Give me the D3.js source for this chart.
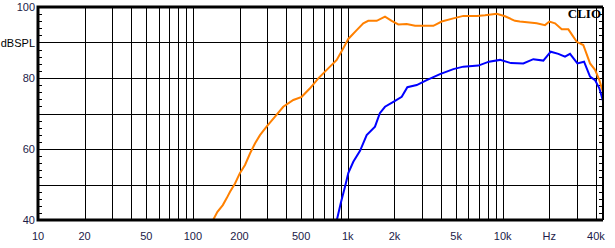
<!DOCTYPE html>
<html>
<head>
<meta charset="utf-8">
<script src="https://cdn.jsdelivr.net/npm/d3@7"></script>
<style>
  body { margin: 0; background: #fff; }
  svg { display: block; }
  text { font-family: 'Liberation Sans', Arial, sans-serif; font-size: 11px; fill: #1c1a48; }
</style>
</head>
<body>
<svg id="graph" width="615" height="248"></svg>
<script>
// frequency ticks (Hz) and their labels
const gridFreqs = [20, 30, 40, 50, 60, 70, 80, 90, 100, 200, 300, 400, 500, 600, 700, 800, 900,
  1000, 2000, 3000, 4000, 5000, 6000, 7000, 8000, 9000, 10000, 20000, 30000, 40000];
const xTickFreqs = [10, 20, 50, 100, 200, 500, 1000, 2000, 5000, 10000, 20000, 40000];
const xTickLabels = ['10', '20', '50', '100', '200', '500', '1k', '2k', '5k', '10k', 'Hz', '40k'];
const yTickValues = [40, 60, 80, 90, 100];
const yTickLabels = ['40', '60', '80', 'dBSPL', '100'];

// orange response
const orangeFreq = [135, 144, 156, 165, 174, 187, 201, 217, 234, 252, 271, 299, 339, 383, 445, 504,
  570, 645, 731, 848, 935, 1007, 1141, 1259, 1355, 1537, 1738, 1920, 2119, 2399, 2716, 3566, 4037,
  4799, 5568, 6796, 7688, 9146, 10350, 12000, 12900, 16580, 18750, 20000, 21770, 24040, 26530,
  30050, 33120, 36620, 39450, 42050, 44400];
const orangeDb = [40, 42.3, 44.2, 46.1, 48, 50.3, 53.2, 55.5, 58.8, 61.6, 63.9, 66.3, 69.1, 71.9, 73.8, 74.7,
  77.1, 79.9, 82.3, 85.1, 88.4, 91, 93.5, 95.4, 96.1, 96.1, 97.3, 96.1, 95.1, 95.2, 94.7, 94.7, 95.9,
  96.8, 97.5, 97.5, 97.7, 98.1, 97.4, 96.1, 95.9, 95.4, 94.9, 95.9, 95.4, 93.7, 93.7,
  90.2, 89.3, 84.1, 82.3, 79.4, 76];

// blue response
const blueFreq = [850, 900, 959, 1007, 1085, 1199, 1324, 1498, 1610, 1738, 1968, 2229, 2423, 2786, 3231,
  3937, 4799, 5568, 6967, 8150, 9610, 11300, 13580, 15760, 18290, 20410, 22860, 25240, 27200,
  30340, 33500, 36620, 39450, 42050, 44400];
const blueDb = [40, 44.7, 49.4, 53.2, 56.4, 59.5, 63.9, 66.3, 70.1, 71.9, 73.3, 74.7, 77.4, 78.0, 79.4,
  81.1, 82.5, 83.2, 83.5, 84.6, 85.1, 84.2, 84.1, 85.3, 84.9, 87.4, 86.8, 86.0, 86.8,
  84.1, 84.6, 80.4, 79.4, 77.1, 73.5];

const mLeft = 38, mRight = 603, mTop = 7, mBottom = 220;
const svg = d3.select('#graph');

const x = d3.scaleLog().domain([10, 44400]).range([mLeft, mRight]);
const y = d3.scaleLinear().domain([40, 100]).range([mBottom, mTop]);

// grid
svg.append('g').selectAll('line').data(gridFreqs).enter().append('line')
  .attr('x1', d => Math.round(x(d)) + 0.5).attr('x2', d => Math.round(x(d)) + 0.5)
  .attr('y1', mTop).attr('y2', mBottom)
  .attr('stroke', '#000').attr('stroke-width', 1);

svg.append('g').selectAll('line').data([50, 60, 70, 80, 90]).enter().append('line')
  .attr('x1', mLeft).attr('x2', mRight)
  .attr('y1', d => Math.round(y(d)) + 0.5).attr('y2', d => Math.round(y(d)) + 0.5)
  .attr('stroke', '#000').attr('stroke-width', 1);

// minor ticks every 2 dB, inside both sides
const minor = d3.range(42, 100, 2).filter(d => d % 10 !== 0);
svg.append('g').selectAll('line').data(minor).enter().append('line')
  .attr('x1', mLeft).attr('x2', mLeft + 4)
  .attr('y1', d => Math.round(y(d)) + 0.5).attr('y2', d => Math.round(y(d)) + 0.5)
  .attr('stroke', '#000');
svg.append('g').selectAll('line').data(minor).enter().append('line')
  .attr('x1', mRight - 4).attr('x2', mRight)
  .attr('y1', d => Math.round(y(d)) + 0.5).attr('y2', d => Math.round(y(d)) + 0.5)
  .attr('stroke', '#000');

// curves
svg.append('clipPath').attr('id', 'clip').append('rect')
  .attr('x', mLeft).attr('y', mTop).attr('width', mRight - mLeft).attr('height', mBottom - mTop);

const line = d3.line().x(d => x(d[0])).y(d => y(d[1]));
const plot = svg.append('g').attr('clip-path', 'url(#clip)');
plot.append('path').datum(d3.zip(orangeFreq, orangeDb))
  .attr('d', line).attr('fill', 'none').attr('stroke', '#ff8000').attr('stroke-width', 2);
plot.append('path').datum(d3.zip(blueFreq, blueDb))
  .attr('d', line).attr('fill', 'none').attr('stroke', '#0000ff').attr('stroke-width', 2);

// frame
svg.append('path')
  .attr('d', `M${mRight},${mTop}H${mLeft}V${mBottom}H${mRight}`)
  .attr('fill', 'none').attr('stroke', '#000').attr('stroke-width', 3);
svg.append('line')
  .attr('x1', mRight).attr('x2', mRight).attr('y1', mTop).attr('y2', mBottom)
  .attr('stroke', '#000').attr('stroke-width', 2);

// labels
svg.append('g').selectAll('text').data(xTickFreqs).enter().append('text')
  .attr('x', d => x(d)).attr('y', 240)
  .attr('text-anchor', 'middle')
  .text((d, i) => xTickLabels[i]);

svg.append('g').selectAll('text').data(yTickValues).enter().append('text')
  .attr('x', 35).attr('y', d => y(d) + 4)
  .attr('text-anchor', 'end')
  .style('fill', d => d === 90 ? '#000' : null)
  .text((d, i) => yTickLabels[i]);

svg.append('text')
  .attr('x', 601).attr('y', 18)
  .attr('text-anchor', 'end')
  .style('font-family', "'Liberation Serif', 'DejaVu Serif', serif")
  .style('font-weight', 'bold').style('font-size', '13px').style('fill', '#000')
  .text('CLIO');
</script>
</body>
</html>
